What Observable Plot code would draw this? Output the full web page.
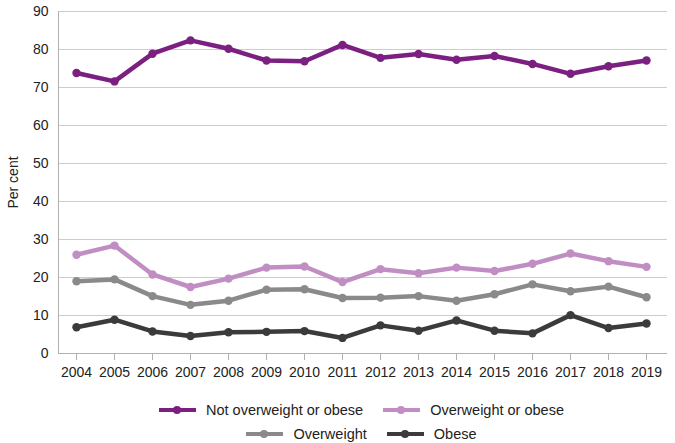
<!DOCTYPE html>
<html>
<head>
<meta charset="utf-8">
<script src="https://cdn.jsdelivr.net/npm/d3@7"></script>
<script src="https://cdn.jsdelivr.net/npm/@observablehq/plot@0.6"></script>
<style>
  html, body { margin: 0; padding: 0; background: #fff; }
  body { width: 675px; font-family: "Liberation Sans", Arial, sans-serif; }
  #legend { font-size: 14.5px; color: #222; padding-top: 6px; padding-left: 48px; }
  .row { display: flex; justify-content: center; height: 24px; align-items: center; }
  .item { display: flex; align-items: center; margin: 0 10px; }
  .sw { position: relative; width: 37px; height: 8px; margin-right: 10px; }
  .sw .ln { position: absolute; left: 0; right: 0; top: 2px; height: 4px; }
  .sw .dt { position: absolute; left: 14px; top: 0; width: 8px; height: 8px; border-radius: 50%; }
</style>
</head>
<body>
<div id="chart"></div>
<div id="legend"></div>
<script>
const years = ["2004","2005","2006","2007","2008","2009","2010","2011","2012","2013","2014","2015","2016","2017","2018","2019"];
const seriesNames = ["Not overweight or obese", "Overweight or obese", "Overweight", "Obese"];
const seriesColors = ["#7b1f81", "#c18ec4", "#8a8a8a", "#3b3b3b"];
const notOverweightOrObese = [73.8, 71.6, 78.9, 82.4, 80.2, 77.1, 76.9, 81.2, 77.8, 78.8, 77.3, 78.3, 76.2, 73.6, 75.6, 77.1];
const overweightOrObese    = [26.0, 28.4, 20.8, 17.5, 19.7, 22.6, 22.9, 18.8, 22.2, 21.1, 22.6, 21.7, 23.6, 26.3, 24.3, 22.8];
const overweight           = [19.0, 19.5, 15.1, 12.8, 13.9, 16.8, 16.9, 14.6, 14.7, 15.1, 13.9, 15.6, 18.2, 16.4, 17.6, 14.8];
const obese                = [6.9, 8.9, 5.8, 4.6, 5.6, 5.7, 5.9, 4.1, 7.4, 6.0, 8.7, 6.0, 5.3, 10.1, 6.7, 7.9];
const yTicks = [0, 10, 20, 30, 40, 50, 60, 70, 80, 90];

const allSeries = [notOverweightOrObese, overweightOrObese, overweight, obese];
const data = [];
allSeries.forEach((vals, i) => {
  vals.forEach((v, j) => data.push({series: seriesNames[i], year: years[j], value: v}));
});

const chart = Plot.plot({
  width: 675,
  height: 392,
  marginLeft: 58,
  marginRight: 8,
  marginTop: 11,
  marginBottom: 39,
  style: { fontFamily: "'Liberation Sans', Arial, sans-serif", fontSize: "14px", color: "#222" },
  x: { type: "point", domain: years, padding: 0, insetLeft: 14, insetRight: 17 },
  y: { domain: [0, 90] },
  color: { domain: seriesNames, range: seriesColors },
  marks: [
    Plot.ruleY(yTicks.filter(d => d > 0), { stroke: "#cccccc", strokeWidth: 1 }),
    Plot.ruleY([0], { stroke: "#b0b0b0", strokeWidth: 1 }),
    Plot.axisX({ tickSize: 7, tickPadding: 7, stroke: "#b0b0b0", fill: "#222", fontSize: 14, label: null }),
    Plot.axisY({ ticks: yTicks, tickSize: 0, tickPadding: 10, fontSize: 14, fill: "#222",
      label: "Per cent", labelAnchor: "center", labelArrow: "none", labelOffset: 50 }),
    Plot.line(data, { x: "year", y: "value", z: "series", stroke: "series", strokeWidth: 4.5 }),
    Plot.dot(data, { x: "year", y: "value", fill: "series", r: 4.2 })
  ]
});
document.getElementById("chart").appendChild(chart);

// vertical y-axis line
const svg = d3.select(chart);
svg.append("line")
  .attr("x1", 58.5).attr("x2", 58.5).attr("y1", 11).attr("y2", 353)
  .attr("stroke", "#b0b0b0");

const legend = document.getElementById("legend");
const rows = [[0, 1], [2, 3]];
rows.forEach(r => {
  const row = document.createElement("div");
  row.className = "row";
  r.forEach(i => {
    const it = document.createElement("div");
    it.className = "item";
    it.innerHTML = `<div class="sw"><div class="ln" style="background:${seriesColors[i]}"></div><div class="dt" style="background:${seriesColors[i]}"></div></div><span>${seriesNames[i]}</span>`;
    row.appendChild(it);
  });
  legend.appendChild(row);
});
</script>
</body>
</html>
